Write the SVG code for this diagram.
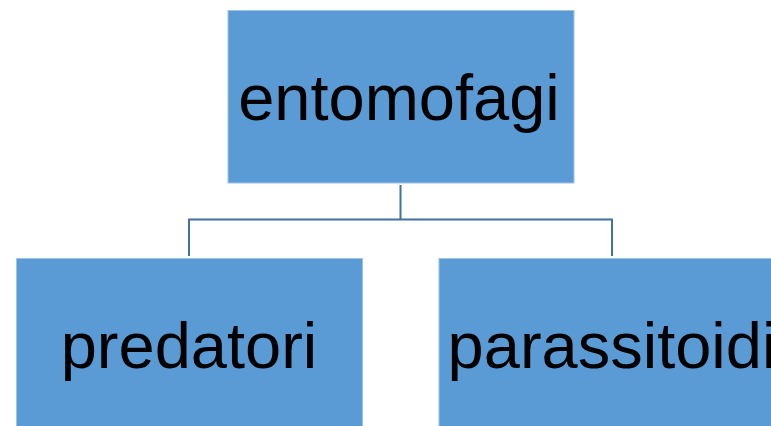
<svg xmlns="http://www.w3.org/2000/svg" width="771" height="426" viewBox="0 0 771 426">
<style>
.box{fill:#5B9BD5;stroke:#9DC3E6;stroke-width:1}
.lbl{font-family:"Liberation Sans",Arial,sans-serif;font-size:65px;fill:#000;text-anchor:middle}
.conn{fill:none;stroke:#41719C;stroke-width:2}
</style>
<rect width="771" height="426" fill="#fff"/>
<g id="connectors">
<path class="conn" d="M400.5,185 V219.5 M189,256 V219.5 H612 V256"/>
</g>
<g id="node-entomofagi">
<rect class="box" x="228" y="10.5" width="346" height="172.5"/>
<text class="lbl" x="399" y="120">entomofagi</text>
</g>
<g id="node-predatori">
<rect class="box" x="16.5" y="258.5" width="346" height="172"/>
<text class="lbl" x="189" y="368">predatori</text>
</g>
<g id="node-parassitoidi">
<rect class="box" x="439" y="258.5" width="346" height="172"/>
<text class="lbl" x="612" y="368">parassitoidi</text>
</g>
</svg>
